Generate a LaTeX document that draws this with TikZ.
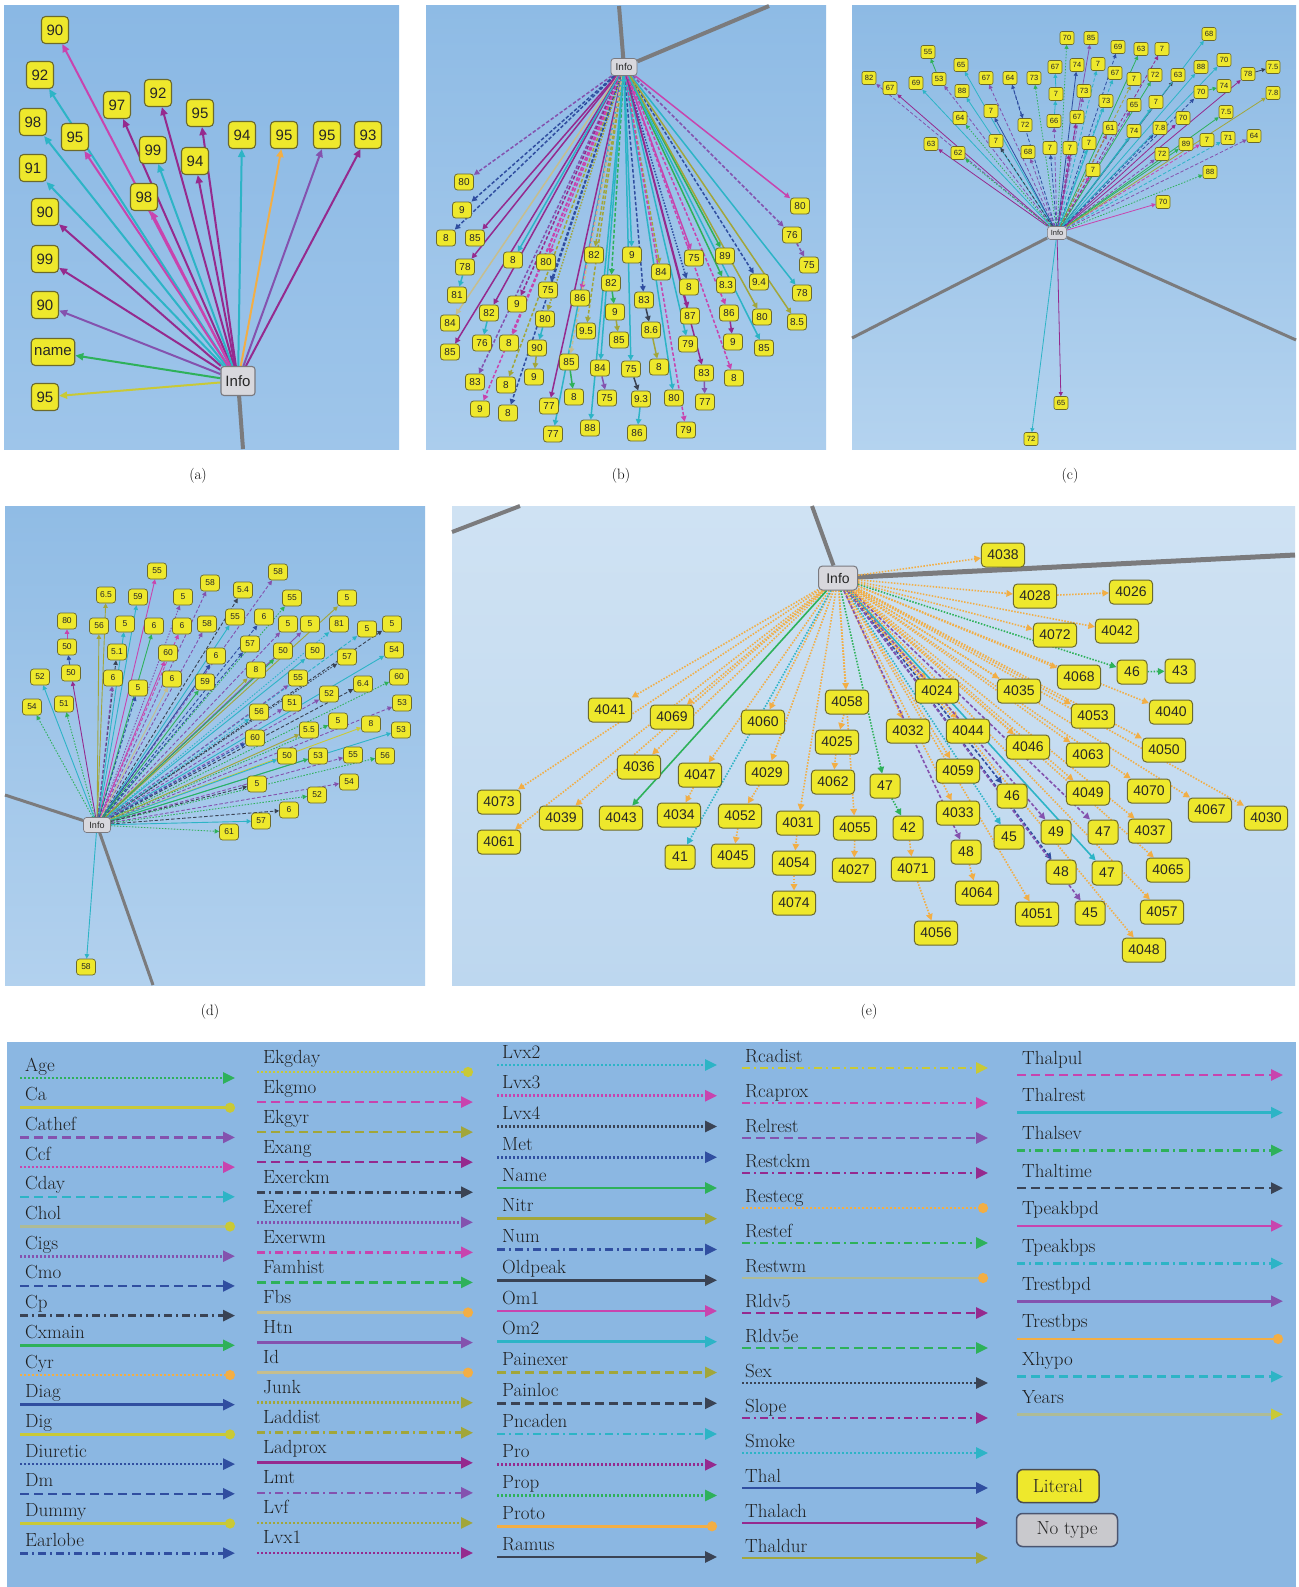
\documentclass[tikz,border=0pt]{standalone}
\usepackage{fontspec}
\setsansfont{Liberation Sans}
\usepackage{tikz}
\usetikzlibrary{arrows.meta, positioning, backgrounds}

\definecolor{cyanE}{HTML}{2DB4C6}
\definecolor{magE}{HTML}{C844AE}
\definecolor{purE}{HTML}{952A8E}
\definecolor{violE}{HTML}{8452AE}
\definecolor{grnE}{HTML}{2EB15A}
\definecolor{yelE}{HTML}{C9C936}
\definecolor{orgE}{HTML}{F2AE45}
\definecolor{navyE}{HTML}{304EA0}
\definecolor{darkE}{HTML}{3A4354}
\definecolor{olivE}{HTML}{A2A63A}
\definecolor{paleE}{HTML}{C6BE8E}
\definecolor{paleG}{HTML}{AEBB96}
\definecolor{litF}{HTML}{EEE82C}
\definecolor{litD}{HTML}{6C6A2C}
\definecolor{infF}{HTML}{D8D8DD}
\definecolor{infD}{HTML}{7A7A80}
\definecolor{wireG}{HTML}{7B7B7D}
\definecolor{legBg}{HTML}{8BB7E2}

\pgfdeclarelayer{bgl}
\pgfdeclarelayer{edg}
\pgfsetlayers{bgl,edg,main}

\tikzset{
  lit/.style={draw=litD, fill=litF, rounded corners=3pt, text=black!85},
  litA/.style={lit, font=\sffamily\fontsize{15}{15}\selectfont, minimum width=27pt, minimum height=27pt, inner xsep=3pt, line width=1.1pt, rounded corners=4pt},
  litB/.style={lit, font=\sffamily\fontsize{10}{10}\selectfont, minimum width=19pt, minimum height=16pt, inner xsep=2pt, line width=0.8pt},
  litC/.style={lit, font=\sffamily\fontsize{7.5}{7.5}\selectfont, minimum width=14pt, minimum height=13pt, inner xsep=1.5pt, line width=0.6pt, rounded corners=2pt},
  litD/.style={lit, font=\sffamily\fontsize{8.5}{8.5}\selectfont, minimum width=19pt, minimum height=16pt, inner xsep=2pt, line width=0.7pt},
  litE/.style={lit, font=\sffamily\fontsize{14}{14}\selectfont, minimum width=30pt, minimum height=24pt, inner xsep=6pt, line width=1pt, rounded corners=4pt},
  info/.style={draw=infD, fill=infF, rounded corners=3pt, text=black!85},
  arA/.style={line width=2pt, -{Triangle[length=8pt,width=7pt]}},
  arB/.style={line width=1.5pt, -{Triangle[length=5.5pt,width=5.5pt]}},
  arC/.style={line width=0.8pt, -{Triangle[length=4pt,width=4pt]}},
  arD/.style={line width=0.9pt, -{Triangle[length=4.5pt,width=4.5pt]}},
  arE/.style={line width=1.6pt, -{Triangle[length=6.5pt,width=6.5pt]}},
  sol/.style={solid},
  dsh/.style={dash pattern=on 3.5pt off 2pt},
  dts/.style={dash pattern=on 1.5pt off 1.5pt},
  wire/.style={wireG, line width=4pt},
  captxt/.style={font=\fontsize{15}{15}\selectfont},
  legtxt/.style={font=\fontsize{19}{19}\selectfont, text=black!88, inner sep=0pt},
  lsol/.style={solid},
  ldsh/.style={dash pattern=on 9pt off 5pt},
  ldts/.style={dash pattern=on 2pt off 2pt},
  ldd/.style={dash pattern=on 8pt off 4pt on 2pt off 4pt},
  tipT/.style={-{Triangle[length=12pt,width=11pt]}},
  tipTY/.style={-{Triangle[length=12pt,width=11pt,color=yelE]}},
  tipC/.style={-{Circle[length=10pt]}},
  tipO/.style={-{Circle[length=10pt,color=orgE]}},
  tipY/.style={-{Circle[length=10pt,color=yelE]}},
}

\newcommand\legcol[7]{%
  \foreach \lt/\lc/\ld/\lp [count=\li] in {#7} {
    \pgfmathsetmacro\ly{#4+(\li-1)*#5}
    \node[legtxt, anchor=base west] (lg\lt) at (#1,\ly-#6) {\lt};
    \draw[\lc,\ld,\lp,line width=2.6pt] (#2,\ly) -- (#3,\ly);
  }}

\newcommand\fanpanel[3]{%
  \foreach \nm/\px/\py/\lab/\src/\col/\sty in #1 {
    \node[#2] (\nm) at (\px,\py) {\lab};
  }
  \begin{pgfonlayer}{edg}
    \foreach \nm/\px/\py/\lab/\src/\col/\sty in #1 {
      \draw[#3,\col,\sty] (\src) -- (\nm);
    }
  \end{pgfonlayer}}

\def\listA{
  a1/55/30/90/ai/magE/sol, a2/40/75/92/ai/cyanE/sol, a3/33/122/98/ai/cyanE/sol,
  a4/33/168/91/ai/cyanE/sol, a5/45/212/90/ai/purE/sol, a6/45/259/99/ai/purE/sol,
  a7/45/305/90/ai/violE/sol, a8/53/352/name/ai/grnE/sol, a9/45/397/95/ai/yelE/sol,
  a10/75/137/95/ai/magE/sol, a11/117/105/97/ai/purE/sol, a12/158/93/92/ai/purE/sol,
  a13/153/150/99/ai/cyanE/sol, a14/144/197/98/ai/magE/sol, a15/200/113/95/ai/purE/sol,
  a16/195/161/94/ai/purE/sol, a17/242/135/94/ai/cyanE/sol, a18/284/135/95/ai/orgE/sol,
  a19/327/135/95/ai/violE/sol, a20/368/135/93/ai/purE/sol}

\def\listB{
  b1/464/182/80/bi/violE/dsh, b2/462/210/9/bi/navyE/dsh, b3/446/238/8/bi/navyE/dsh,
  b4/475/238/85/bi/purE/sol, b5/465/267/78/bi/purE/sol, b6/457/295/81/b5/cyanE/sol,
  b7/450/323/84/bi/paleE/sol, b8/450/352/85/bi/purE/sol, b9/489/313/82/bi/purE/sol,
  b10/482/343/76/b9/cyanE/sol, b11/475/382/83/bi/violE/dsh, b12/480/409/9/bi/magE/dsh,
  b13/513/260/8/bi/cyanE/sol, b14/517/304/9/bi/purE/dsh, b15/509/343/8/bi/magE/dsh,
  b16/506/385/8/bi/olivE/dsh, b17/508/413/8/bi/navyE/dsh, b18/546/262/80/bi/magE/dsh,
  b19/548/290/75/bi/navyE/dsh, b20/545/319/80/bi/olivE/dts, b21/537/348/90/b20/cyanE/sol,
  b22/534/377/9/b21/olivE/sol, b23/549/406/77/bi/purE/sol, b24/553/434/77/bi/cyanE/sol,
  b25/594/255/82/bi/olivE/dsh, b26/580/298/86/bi/magE/dsh, b27/586/331/9.5/bi/olivE/dsh,
  b28/569/362/85/bi/paleE/dsh, b29/574/397/8/b28/grnE/sol, b30/590/428/88/bi/cyanE/sol,
  b31/611/283/82/bi/grnE/dsh, b32/615/312/9/b31/grnE/sol, b33/619/340/85/b32/olivE/sol,
  b34/600/368/84/bi/cyanE/sol, b35/607/398/75/b34/violE/sol, b36/632/255/9/bi/cyanE/sol,
  b37/644/300/83/bi/navyE/dsh, b38/651/330/8.6/b37/darkE/sol, b39/659/367/8/b38/olivE/sol,
  b40/631/369/75/bi/cyanE/sol, b41/641/399/9.3/b40/darkE/sol, b42/637/433/86/b41/cyanE/sol,
  b43/661/272/84/bi/olivE/dsh, b44/674/398/80/bi/cyanE/sol, b45/686/430/79/bi/magE/dsh,
  b46/694/258/75/bi/magE/sol, b47/689/287/8/bi/navyE/dts, b48/690/316/87/bi/purE/sol,
  b49/688/344/79/bi/cyanE/sol, b50/704/373/83/bi/purE/sol, b51/705/402/77/b50/violE/sol,
  b52/725/256/89/bi/grnE/sol, b53/726/285/8.3/bi/grnE/sol, b54/729/313/86/bi/magE/dsh,
  b55/733/342/9/b54/purE/sol, b56/734/378/8/bi/magE/dsh, b57/759/282/9.4/bi/navyE/dsh,
  b58/762/317/80/bi/olivE/sol, b59/764/348/85/bi/cyanE/sol, b60/800/206/80/bi/magE/sol,
  b61/792/235/76/bi/violE/dsh, b62/809/265/75/b61/violE/dsh, b63/802/293/78/bi/cyanE/sol,
  b64/797/322/8.5/bi/olivE/sol}

\def\listC{
  c1/869/78/82/ci/violE/dsh, c2/890/88/67/ci/purE/sol, c3/916/83/69/ci/cyanE/sol,
  c4/939/79/53/ci/violE/dsh, c5/928/52/55/c4/grnE/sol, c6/961/65/65/ci/cyanE/sol,
  c7/962/91/88/ci/cyanE/sol, c8/960/118/64/ci/grnE/dts, c9/931/144/63/ci/purE/sol,
  c10/958/153/62/ci/grnE/dts, c11/986/78/67/ci/violE/dsh, c12/991/111/7/ci/navyE/sol,
  c13/996/141/7/ci/darkE/dsh, c14/1010/78/64/ci/navyE/dsh, c15/1025/125/72/c14/navyE/dsh,
  c16/1028/152/68/ci/violE/dsh, c17/1034/78/73/ci/grnE/dts, c18/1054/121/66/ci/violE/dsh,
  c19/1056/94/7/c18/cyanE/sol, c20/1055/67/67/c19/cyanE/sol, c21/1050/148/7/ci/navyE/dsh,
  c22/1067/38/70/ci/grnE/dts, c23/1091/38/85/ci/violE/sol, c24/1077/65/74/ci/navyE/sol,
  c25/1084/91/73/ci/violE/dsh, c26/1077/117/67/ci/purE/dsh, c27/1070/148/7/ci/purE/dsh,
  c28/1098/64/7/ci/cyanE/dsh, c29/1118/47/69/ci/navyE/dsh, c30/1115/73/67/ci/cyanE/dsh,
  c31/1106/101/73/ci/cyanE/sol, c32/1089/143/7/ci/cyanE/dts, c33/1093/170/7/ci/magE/dsh,
  c34/1110/128/61/ci/purE/dsh, c35/1141/49/63/ci/grnE/sol, c36/1134/79/7/ci/olivE/dsh,
  c37/1134/105/65/ci/violE/dsh, c38/1134/131/74/ci/cyanE/sol, c39/1162/49/7/ci/purE/dsh,
  c40/1155/75/72/ci/grnE/sol, c41/1156/102/7/ci/cyanE/sol, c42/1160/128/7.8/ci/navyE/dsh,
  c43/1162/154/72/ci/violE/dsh, c44/1178/75/63/ci/darkE/sol, c45/1183/118/70/ci/purE/sol,
  c46/1186/144/89/ci/grnE/sol, c47/1207/140/7/ci/magE/dsh, c48/1209/34/68/ci/cyanE/sol,
  c49/1201/67/88/ci/cyanE/sol, c50/1224/60/70/ci/cyanE/sol, c51/1201/92/70/ci/navyE/dsh,
  c52/1224/86/74/c51/grnE/sol, c53/1226/112/7.5/ci/grnE/sol, c54/1228/138/71/ci/cyanE/dsh,
  c55/1248/74/78/ci/purE/sol, c56/1273/67/7.5/c55/darkE/sol, c57/1273/93/7.8/ci/olivE/sol,
  c58/1254/136/64/ci/violE/dsh, c59/1210/172/88/ci/grnE/dts, c60/1163/202/70/ci/magE/sol,
  c61/1061/403/65/ci/purE/sol, c62/1031/439/72/ci/cyanE/sol}

\def\listD{
  d1/157/571/55/di/magE/sol, d2/106/595/6.5/di/olivE/sol, d3/138/597/59/di/cyanE/sol,
  d4/210/583/58/di/violE/dsh, d5/183/597/5/di/violE/dts, d6/243/590/5.4/di/darkE/dsh,
  d7/278/572/58/di/violE/dsh, d8/292/598/55/di/grnE/dts, d9/347/598/5/di/olivE/sol,
  d10/71/673/50/di/purE/sol, d11/67/647/50/d10/navyE/sol, d12/67/621/80/d11/magE/sol,
  d13/99/626/56/di/olivE/sol, d14/125/624/5/di/cyanE/sol, d15/154/626/6/di/grnE/sol,
  d16/182/626/6/di/magE/dsh, d17/207/624/58/di/violE/dsh, d18/235/617/55/di/cyanE/sol,
  d19/264/617/6/di/navyE/dsh, d20/288/624/5/di/violE/dsh, d21/310/624/5/di/violE/sol,
  d22/339/624/81/di/cyanE/dts, d23/367/629/5/di/cyanE/dsh, d24/392/624/5/di/darkE/dsh,
  d25/117/652/5.1/di/darkE/dsh, d26/168/653/60/di/magE/sol, d27/250/644/57/di/navyE/dsh,
  d28/216/656/6/di/navyE/sol, d29/283/651/50/di/grnE/sol, d30/315/651/50/di/cyanE/sol,
  d31/347/657/57/di/darkE/dts, d32/394/650/54/di/cyanE/sol, d33/40/677/52/di/cyanE/sol,
  d34/113/678/6/di/violE/dsh, d35/138/688/5/di/navyE/dsh, d36/172/679/6/di/paleE/sol,
  d37/205/682/59/di/grnE/sol, d38/256/670/8/di/olivE/sol, d39/298/678/55/di/violE/dsh,
  d40/363/684/6.4/di/darkE/dsh, d41/399/677/60/di/grnE/dts, d42/32/707/54/di/grnE/dts,
  d43/64/704/51/di/grnE/dts, d44/329/694/52/di/violE/dsh, d45/292/703/51/di/violE/dsh,
  d46/259/712/56/di/cyanE/dts, d47/402/703/53/di/violE/dsh, d48/338/721/5/di/grnE/dts,
  d49/309/730/5.5/di/olivE/sol, d50/371/724/8/di/yelE/sol, d51/255/738/60/di/navyE/dsh,
  d52/401/730/53/di/cyanE/sol, d53/287/756/50/di/cyanE/sol, d54/318/756/53/di/grnE/sol,
  d55/353/755/55/di/violE/dsh, d56/385/756/56/di/grnE/dts, d57/257/784/5/di/darkE/dsh,
  d58/349/782/54/di/violE/dsh, d59/317/795/52/di/grnE/dts, d60/289/810/6/di/darkE/dsh,
  d61/261/821/57/di/cyanE/sol, d62/229/832/61/di/grnE/dts, d63/86/967/58/di/cyanE/sol}

\def\listE{
  e1/1003/555/4038/ei/orgE/dts, e2/1035/596/4028/ei/orgE/dts, e3/1131/592/4026/e2/orgE/dts,
  e4/1055/635/4072/ei/orgE/dts, e5/1117/631/4042/ei/orgE/dts, e6/1079/677/4068/ei/orgE/dts,
  e7/1132/672/46/ei/grnE/dts, e8/1180/671/43/e7/grnE/dts, e9/937/691/4024/ei/orgE/dts,
  e10/1019/691/4035/ei/orgE/dts, e11/1093/716/4053/ei/orgE/dts, e12/1171/712/4040/ei/orgE/dts,
  e13/908/731/4032/ei/orgE/dts, e14/968/731/4044/ei/orgE/dts, e15/1028/747/4046/ei/orgE/dts,
  e16/1088/755/4063/ei/orgE/dts, e17/1164/750/4050/ei/orgE/dts, e18/958/771/4059/ei/orgE/dts,
  e19/885/786/47/ei/grnE/dts, e20/1012/796/46/ei/navyE/dsh, e21/1088/793/4049/ei/orgE/dts,
  e22/1149/791/4070/ei/orgE/dts, e23/1210/810/4067/ei/orgE/dts, e24/1266/818/4030/ei/orgE/dts,
  e25/958/813/4033/ei/orgE/dts, e26/908/828/42/e19/grnE/dts, e27/1009/837/45/ei/cyanE/dts,
  e28/1056/832/49/ei/violE/dsh, e29/1103/832/47/ei/violE/dsh, e30/1150/831/4037/ei/orgE/dts,
  e31/966/852/48/ei/violE/dsh, e32/913/869/4071/e26/orgE/dts, e33/1061/872/48/ei/navyE/dsh,
  e34/1107/873/47/ei/cyanE/sol, e35/1168/870/4065/ei/orgE/dts, e36/977/893/4064/e31/orgE/dts,
  e37/1037/914/4051/ei/orgE/dts, e38/1090/913/45/ei/violE/dsh, e39/1162/912/4057/ei/orgE/dts,
  e40/936/933/4056/e32/orgE/dts, e41/1144/950/4048/ei/orgE/dts, e42/610/710/4041/ei/orgE/dts,
  e43/672/717/4069/ei/orgE/dts, e44/763/722/4060/ei/orgE/dts, e45/847/702/4058/ei/orgE/dts,
  e46/837/742/4025/e45/orgE/dts, e47/833/782/4062/e46/orgE/dts, e48/639/767/4036/ei/orgE/dts,
  e49/700/775/4047/ei/orgE/dts, e50/767/773/4029/ei/orgE/dts, e51/499/802/4073/ei/orgE/dts,
  e52/561/818/4039/ei/orgE/dts, e53/621/818/4043/ei/grnE/sol, e54/679/815/4034/e49/orgE/dts,
  e55/740/816/4052/e50/orgE/dts, e56/798/823/4031/ei/orgE/dts, e57/855/828/4055/ei/orgE/dts,
  e58/499/842/4061/ei/orgE/dts, e59/680/857/41/ei/cyanE/dts, e60/733/856/4045/e55/orgE/dts,
  e61/794/863/4054/e56/orgE/dts, e62/854/870/4027/e57/orgE/dts, e63/794/903/4074/e61/orgE/dts}

\begin{document}
\begin{tikzpicture}[x=1pt, y=-1pt]
\useasboundingbox (0,0) rectangle (1298,1587);
\begin{pgfonlayer}{bgl}
  \fill[white] (0,0) rectangle (1298,1587);
  \shade[top color={rgb,255:red,138;green,184;blue,228}, bottom color={rgb,255:red,158;green,197;blue,234}] (4,6) rectangle (399,449);
  \shade[top color={rgb,255:red,142;green,187;blue,229}, bottom color={rgb,255:red,171;green,205;blue,237}] (426,6) rectangle (826,449);
  \shade[top color={rgb,255:red,141;green,186;blue,228}, bottom color={rgb,255:red,180;green,211;blue,239}] (852,6) rectangle (1296,449);
  \shade[top color={rgb,255:red,144;green,188;blue,229}, bottom color={rgb,255:red,178;green,209;blue,238}] (5,506) rectangle (425,985);
  \shade[top color={rgb,255:red,207;green,226;blue,243}, bottom color={rgb,255:red,189;green,215;blue,239}] (452,506) rectangle (1295,985);
  \fill[legBg] (7,1042) rectangle (1296,1587);
\end{pgfonlayer}

\node[info, font=\sffamily\fontsize{15}{15}\selectfont, minimum width=34pt, minimum height=29pt, line width=1.1pt] (ai) at (238,381) {Info};
\node[info, font=\sffamily\fontsize{10}{10}\selectfont, minimum width=26pt, minimum height=17pt, line width=0.8pt] (bi) at (624,67) {Info};
\node[info, font=\sffamily\fontsize{7.5}{7.5}\selectfont, minimum width=18pt, minimum height=13pt, line width=0.6pt] (ci) at (1057,233) {Info};
\node[info, font=\sffamily\fontsize{9}{9}\selectfont, minimum width=27pt, minimum height=15pt, line width=0.7pt] (di) at (97,825) {Info};
\node[info, font=\sffamily\fontsize{14}{14}\selectfont, minimum width=39pt, minimum height=24pt, line width=1pt, rounded corners=4pt] (ei) at (838,578) {Info};

\coordinate (aw) at (243,449);
\coordinate (bw1) at (619,6);
\coordinate (bw2) at (769,6);
\coordinate (cw1) at (852,338);
\coordinate (cw2) at (1296,340);
\coordinate (dw1) at (5,795);
\coordinate (dw2) at (153,985);
\coordinate (ew1) at (812,506);
\coordinate (ew2) at (1295,555);
\coordinate (ew3) at (452,532);
\coordinate (ew4) at (520,506);
\begin{pgfonlayer}{bgl}
  \draw[wire] (ai) -- (aw);
  \draw[wire] (bi) -- (bw1);
  \draw[wire] (bi) -- (bw2);
  \draw[wire, line width=3pt] (ci) -- (cw1);
  \draw[wire, line width=3pt] (ci) -- (cw2);
  \draw[wire, line width=3pt] (di) -- (dw1);
  \draw[wire, line width=3pt] (di) -- (dw2);
  \draw[wire] (ei) -- (ew1);
  \draw[wire, line width=5pt] (ei) -- (ew2);
  \draw[wire] (ew3) -- (ew4);
\end{pgfonlayer}

\fanpanel{\listA}{litA}{arA}
\fanpanel{\listB}{litB}{arB}
\fanpanel{\listC}{litC}{arC}
\fanpanel{\listD}{litD}{arD}
\fanpanel{\listE}{litE}{arE}

\node[captxt] (capa) at (198,476) {(a)};
\node[captxt] (capb) at (621,476) {(b)};
\node[captxt] (capc) at (1070,476) {(c)};
\node[captxt] (capd) at (210,1012) {(d)};
\node[captxt] (cape) at (869,1012) {(e)};

\legcol{25}{20}{235}{1078}{29.7}{7}{Age/grnE/ldts/tipT, Ca/yelE/lsol/tipC, Cathef/violE/ldsh/tipT, Ccf/magE/ldts/tipT, Cday/cyanE/ldsh/tipT, Chol/paleG/lsol/tipY, Cigs/violE/ldts/tipT, Cmo/navyE/ldsh/tipT, Cp/darkE/ldd/tipT, Cxmain/grnE/lsol/tipT, Cyr/orgE/ldts/tipC, Diag/navyE/lsol/tipT, Dig/yelE/lsol/tipC, Diuretic/navyE/ldts/tipT, Dm/navyE/ldsh/tipT, Dummy/yelE/lsol/tipC, Earlobe/navyE/ldd/tipT}
\legcol{263}{257}{473}{1072}{30.06}{9}{Ekgday/yelE/ldts/tipC, Ekgmo/magE/ldsh/tipT, Ekgyr/olivE/ldsh/tipT, Exang/purE/ldsh/tipT, Exerckm/darkE/ldd/tipT, Exeref/violE/ldts/tipT, Exerwm/magE/ldd/tipT, Famhist/grnE/ldsh/tipT, Fbs/paleE/lsol/tipO, Htn/violE/lsol/tipT, Id/paleE/lsol/tipO, Junk/olivE/ldts/tipT, Laddist/olivE/ldd/tipT, Ladprox/purE/lsol/tipT, Lmt/violE/ldd/tipT, Lvf/olivE/ldts/tipT, Lvx1/purE/ldts/tipT}
\legcol{502}{497}{717}{1065}{30.75}{7}{Lvx2/cyanE/ldts/tipT, Lvx3/magE/ldts/tipT, Lvx4/darkE/ldts/tipT, Met/navyE/ldts/tipT, Name/grnE/lsol/tipT, Nitr/olivE/lsol/tipT, Num/navyE/ldd/tipT, Oldpeak/darkE/lsol/tipT, Om1/magE/lsol/tipT, Om2/cyanE/lsol/tipT, Painexer/olivE/ldsh/tipT, Painloc/darkE/ldsh/tipT, Pncaden/cyanE/ldd/tipT, Pro/purE/ldts/tipT, Prop/grnE/ldts/tipT, Proto/orgE/lsol/tipC, Ramus/darkE/lsol/tipT}
\legcol{745}{742}{988}{1068}{35}{6}{Rcadist/yelE/ldd/tipT, Rcaprox/magE/ldd/tipT, Relrest/violE/ldsh/tipT, Restckm/purE/ldd/tipT, Restecg/orgE/ldts/tipC, Restef/grnE/ldd/tipT, Restwm/paleG/lsol/tipO, Rldv5/purE/ldsh/tipT, Rldv5e/grnE/ldsh/tipT, Sex/darkE/ldts/tipT, Slope/purE/ldd/tipT, Smoke/cyanE/ldts/tipT, Thal/navyE/lsol/tipT, Thalach/purE/lsol/tipT, Thaldur/olivE/lsol/tipT}
\legcol{1022}{1017}{1283}{1075}{37.7}{11}{Thalpul/magE/ldsh/tipT, Thalrest/cyanE/lsol/tipT, Thalsev/grnE/ldd/tipT, Thaltime/darkE/ldsh/tipT, Tpeakbpd/magE/lsol/tipT, Tpeakbps/cyanE/ldd/tipT, Trestbpd/violE/lsol/tipT, Trestbps/orgE/lsol/tipC, Xhypo/cyanE/ldsh/tipT, Years/paleG/lsol/tipTY}

\node[lit, font=\fontsize{19}{19}\selectfont, minimum width=82pt, minimum height=33pt, line width=1.5pt, rounded corners=6pt, draw=black!70] (litkey) at (1058,1486) {Literal};
\node[info, font=\fontsize{19}{19}\selectfont, minimum width=101pt, minimum height=33pt, line width=1.5pt, rounded corners=6pt, fill={rgb,255:red,201;green,201;blue,205}, draw={rgb,255:red,74;green,85;blue,112}] (notype) at (1067,1530) {No type};
\end{tikzpicture}
\end{document}
